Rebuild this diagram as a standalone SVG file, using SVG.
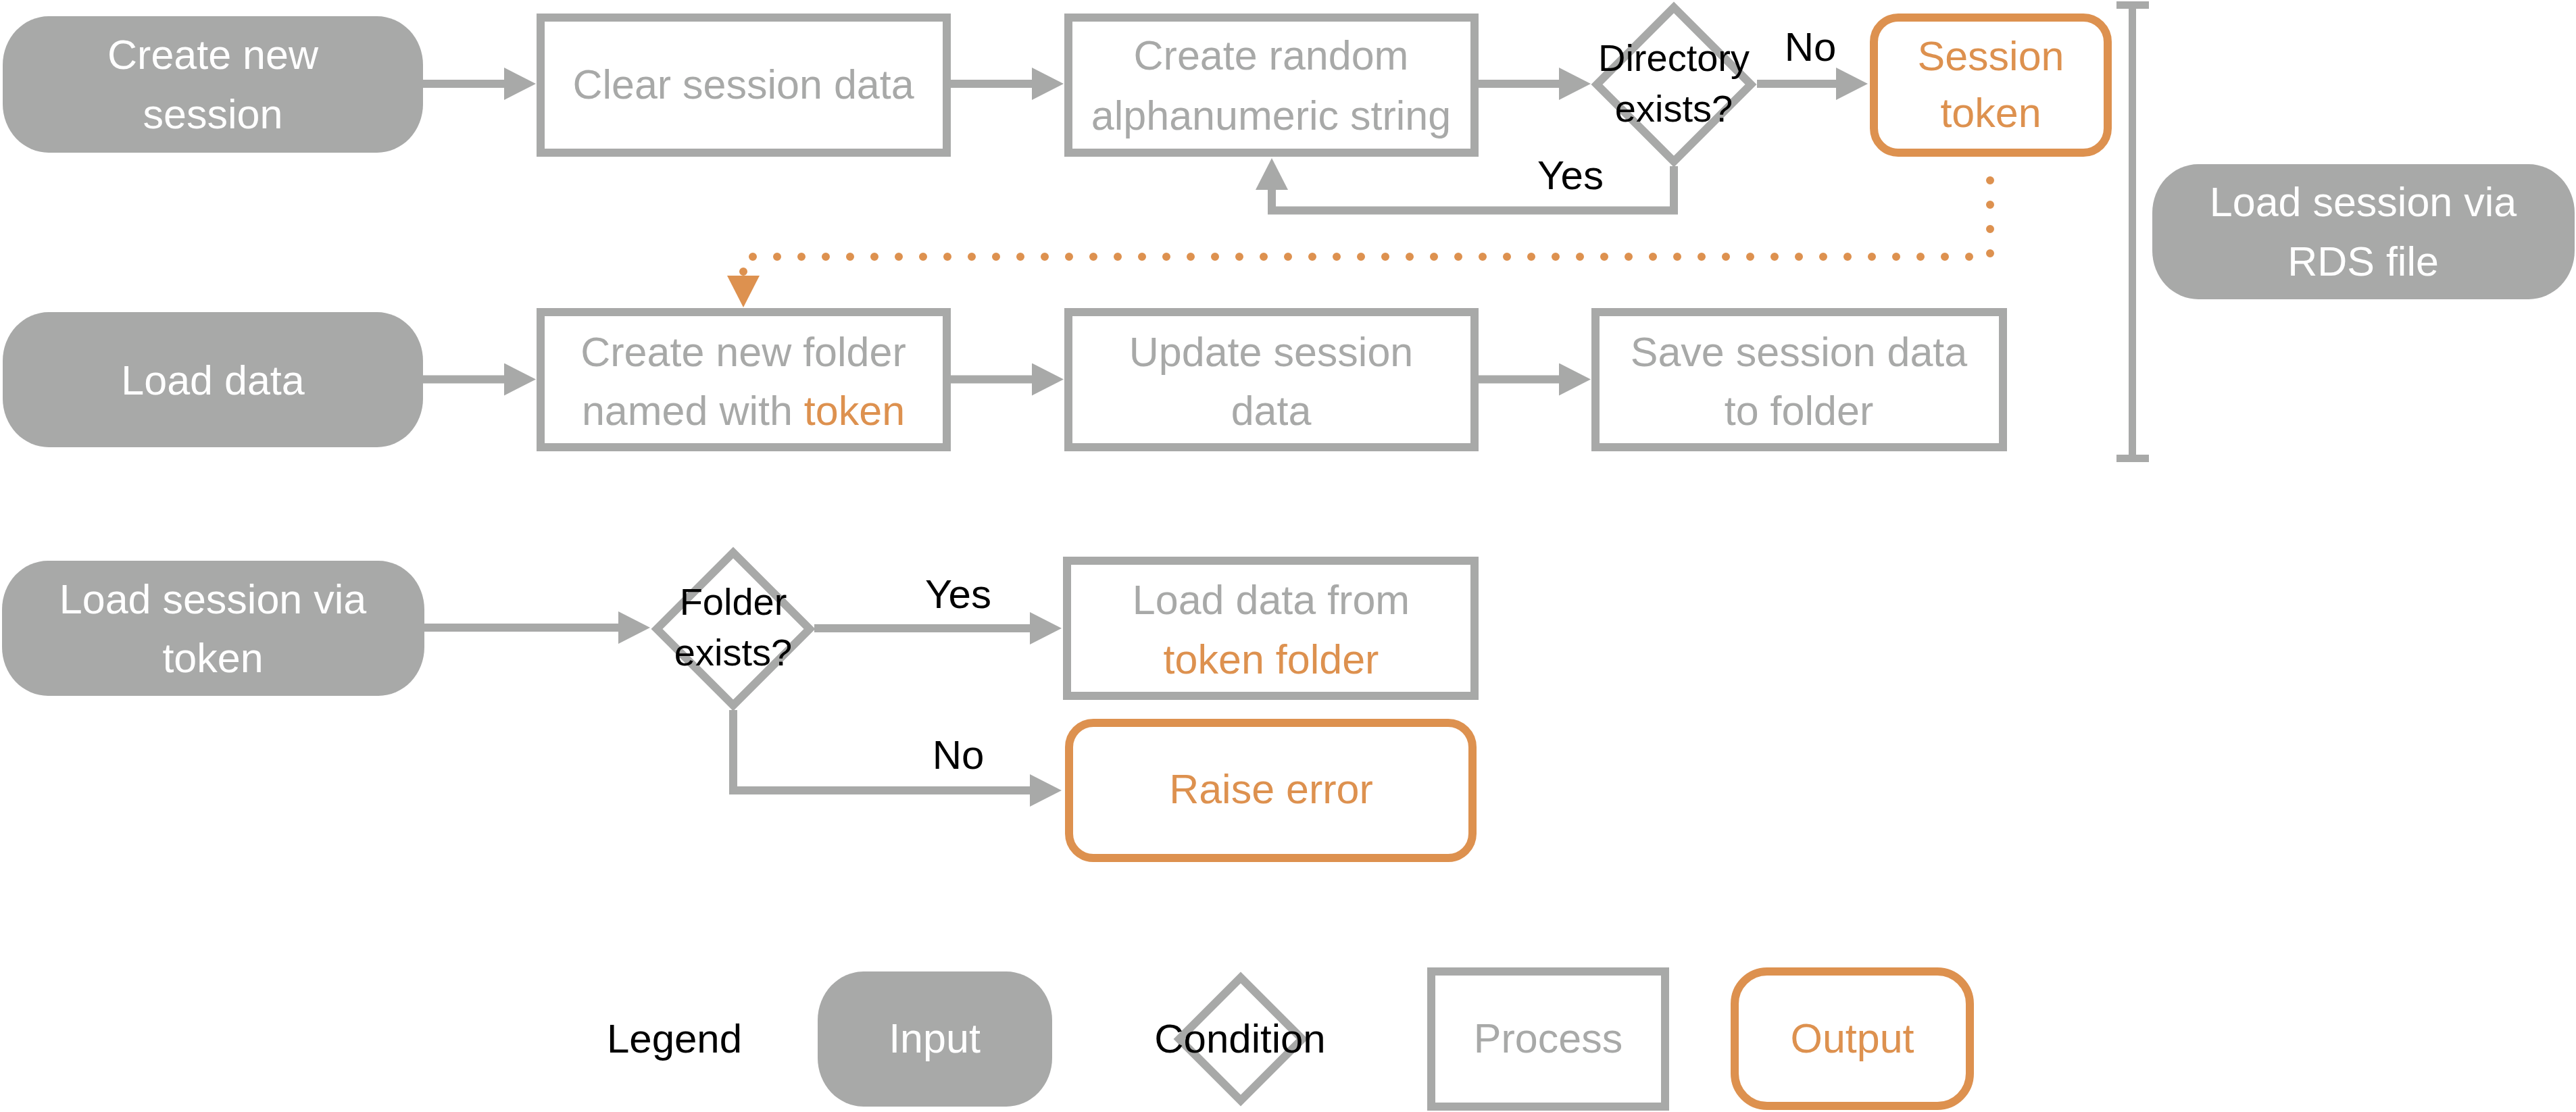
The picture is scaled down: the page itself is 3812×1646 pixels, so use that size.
<svg xmlns="http://www.w3.org/2000/svg" width="3812" height="1646" viewBox="0 0 3812 1646">
  <style>
    text { font-family: "Liberation Sans", Arial, sans-serif; text-anchor: middle; }
    .input { fill: #A8A9A8; stroke: none; }
    .input-text { fill: #FFFFFF; font-size: 61px; }
    .process { fill: #FFFFFF; stroke: #A8A9A8; stroke-width: 12; }
    .process-text { fill: #A8A9A8; font-size: 61px; }
    .output { fill: #FFFFFF; stroke: #DD914F; stroke-width: 12; }
    .output-text { fill: #DD914F; font-size: 61px; }
    .cond { fill: #FFFFFF; stroke: #A8A9A8; stroke-width: 12; stroke-linejoin: miter; }
    .cond-text { fill: #000000; font-size: 56px; }
    .label { fill: #000000; font-size: 60px; }
    .hl { fill: #DD914F; }
    .edge { fill: none; stroke: #A8A9A8; stroke-width: 12; stroke-linecap: butt; marker-end: url(#arrow); }
    .dotted { fill: none; stroke: #DD914F; stroke-width: 12; stroke-linecap: round; stroke-dasharray: 0 36; }
  </style>
  <defs>
    <marker id="arrow" viewBox="0 0 47 48" refX="1" refY="24" markerWidth="47" markerHeight="48" markerUnits="userSpaceOnUse" orient="auto">
      <path d="M0,0 L47,24 L0,48 z" fill="#A8A9A8"/>
    </marker>
  </defs>

  <rect width="3812" height="1646" fill="#FFFFFF"/>

  <!-- connectors -->
  <g id="connectors">
    <!-- row 1 -->
    <path class="edge" d="M626,124 H747"/>
    <path class="edge" d="M1407,124 H1528"/>
    <path class="edge" d="M2188,124 H2308"/>
    <path class="edge" d="M2600,124 H2718"/>
    <path class="edge" d="M2477,246 V311.5 H1882 V280"/>
    <!-- token hand-off to row 2 -->
    <path class="dotted" d="M2945,267 V380 H1100 V404"/>
    <polygon points="1076,408 1124,408 1100,455" fill="#DD914F"/>
    <!-- row 2 -->
    <path class="edge" d="M626,561.5 H747"/>
    <path class="edge" d="M1407,561.5 H1528"/>
    <path class="edge" d="M2188,561.5 H2308"/>
    <!-- row 3 -->
    <path class="edge" d="M628,929 H916"/>
    <path class="edge" d="M1205,930 H1525"/>
    <path class="edge" d="M1085,1051 V1170 H1525"/>
    <!-- bracket spanning rows 1-2 -->
    <g fill="#A8A9A8">
      <rect x="3150" y="2" width="11" height="682"/>
      <rect x="3132" y="2" width="48" height="11"/>
      <rect x="3132" y="673" width="48" height="11"/>
    </g>
  </g>

  <!-- edge labels -->
  <g id="edge-labels">
    <text class="label" x="2679" y="90">No</text>
    <text class="label" x="2324" y="280">Yes</text>
    <text class="label" x="1418" y="900">Yes</text>
    <text class="label" x="1418" y="1138">No</text>
  </g>

  <!-- row 1 -->
  <g id="create-new-session">
    <rect class="input" x="4" y="24" width="622" height="202" rx="68" ry="72"/>
    <text class="input-text" x="315" y="102">Create new</text>
    <text class="input-text" x="315" y="190">session</text>
  </g>
  <g id="clear-session-data">
    <rect class="process" x="800" y="26" width="601" height="200"/>
    <text class="process-text" x="1100" y="146">Clear session data</text>
  </g>
  <g id="create-random-string">
    <rect class="process" x="1581" y="26" width="601" height="200"/>
    <text class="process-text" x="1881" y="103">Create random</text>
    <text class="process-text" x="1881" y="192">alphanumeric string</text>
  </g>
  <g id="directory-exists">
    <polygon class="cond" points="2477,11 2591,125 2477,239 2363,125"/>
    <text class="cond-text" x="2477" y="105">Directory</text>
    <text class="cond-text" x="2477" y="180">exists?</text>
  </g>
  <g id="session-token">
    <rect class="output" x="2773" y="26" width="346" height="200" rx="36"/>
    <text class="output-text" x="2946" y="104">Session</text>
    <text class="output-text" x="2946" y="188">token</text>
  </g>
  <g id="load-session-rds">
    <rect class="input" x="3185" y="243" width="625" height="200" rx="68" ry="72"/>
    <text class="input-text" x="3497" y="320">Load session via</text>
    <text class="input-text" x="3497" y="408">RDS file</text>
  </g>

  <!-- row 2 -->
  <g id="load-data">
    <rect class="input" x="4" y="462" width="622" height="200" rx="68" ry="72"/>
    <text class="input-text" x="315" y="584">Load data</text>
  </g>
  <g id="create-token-folder">
    <rect class="process" x="800" y="462" width="601" height="200"/>
    <text class="process-text" x="1100" y="542">Create new folder</text>
    <text class="process-text" x="1100" y="629">named with <tspan class="hl">token</tspan></text>
  </g>
  <g id="update-session-data">
    <rect class="process" x="1581" y="462" width="601" height="200"/>
    <text class="process-text" x="1881" y="542">Update session</text>
    <text class="process-text" x="1881" y="629">data</text>
  </g>
  <g id="save-session-data">
    <rect class="process" x="2361" y="462" width="603" height="200"/>
    <text class="process-text" x="2662" y="542">Save session data</text>
    <text class="process-text" x="2662" y="629">to folder</text>
  </g>

  <!-- row 3 -->
  <g id="load-session-token">
    <rect class="input" x="3" y="830" width="625" height="200" rx="68" ry="72"/>
    <text class="input-text" x="315" y="908">Load session via</text>
    <text class="input-text" x="315" y="995">token</text>
  </g>
  <g id="folder-exists">
    <polygon class="cond" points="1085,818 1198,931 1085,1044 972,931"/>
    <text class="cond-text" x="1085" y="910">Folder</text>
    <text class="cond-text" x="1085" y="985">exists?</text>
  </g>
  <g id="load-token-folder">
    <rect class="process" x="1579" y="830" width="603" height="200"/>
    <text class="process-text" x="1881" y="909">Load data from</text>
    <text class="process-text hl" x="1881" y="997">token folder</text>
  </g>
  <g id="raise-error">
    <rect class="output" x="1582" y="1070" width="597" height="200" rx="36"/>
    <text class="output-text" x="1881" y="1189">Raise error</text>
  </g>

  <!-- legend -->
  <g id="legend">
    <text class="label" x="998" y="1558">Legend</text>
    <g id="legend-input">
      <rect class="input" x="1210" y="1438" width="347" height="200" rx="68" ry="72"/>
      <text class="input-text" x="1383" y="1558">Input</text>
    </g>
    <g id="legend-condition">
      <polygon class="cond" points="1836,1447 1927,1538 1836,1629 1745,1538"/>
      <text class="label" x="1835" y="1558">Condition</text>
    </g>
    <g id="legend-process">
      <rect class="process" x="2118" y="1438" width="346" height="200"/>
      <text class="process-text" x="2291" y="1558">Process</text>
    </g>
    <g id="legend-output">
      <rect class="output" x="2567" y="1438" width="348" height="199" rx="48"/>
      <text class="output-text" x="2741" y="1558">Output</text>
    </g>
  </g>
</svg>
